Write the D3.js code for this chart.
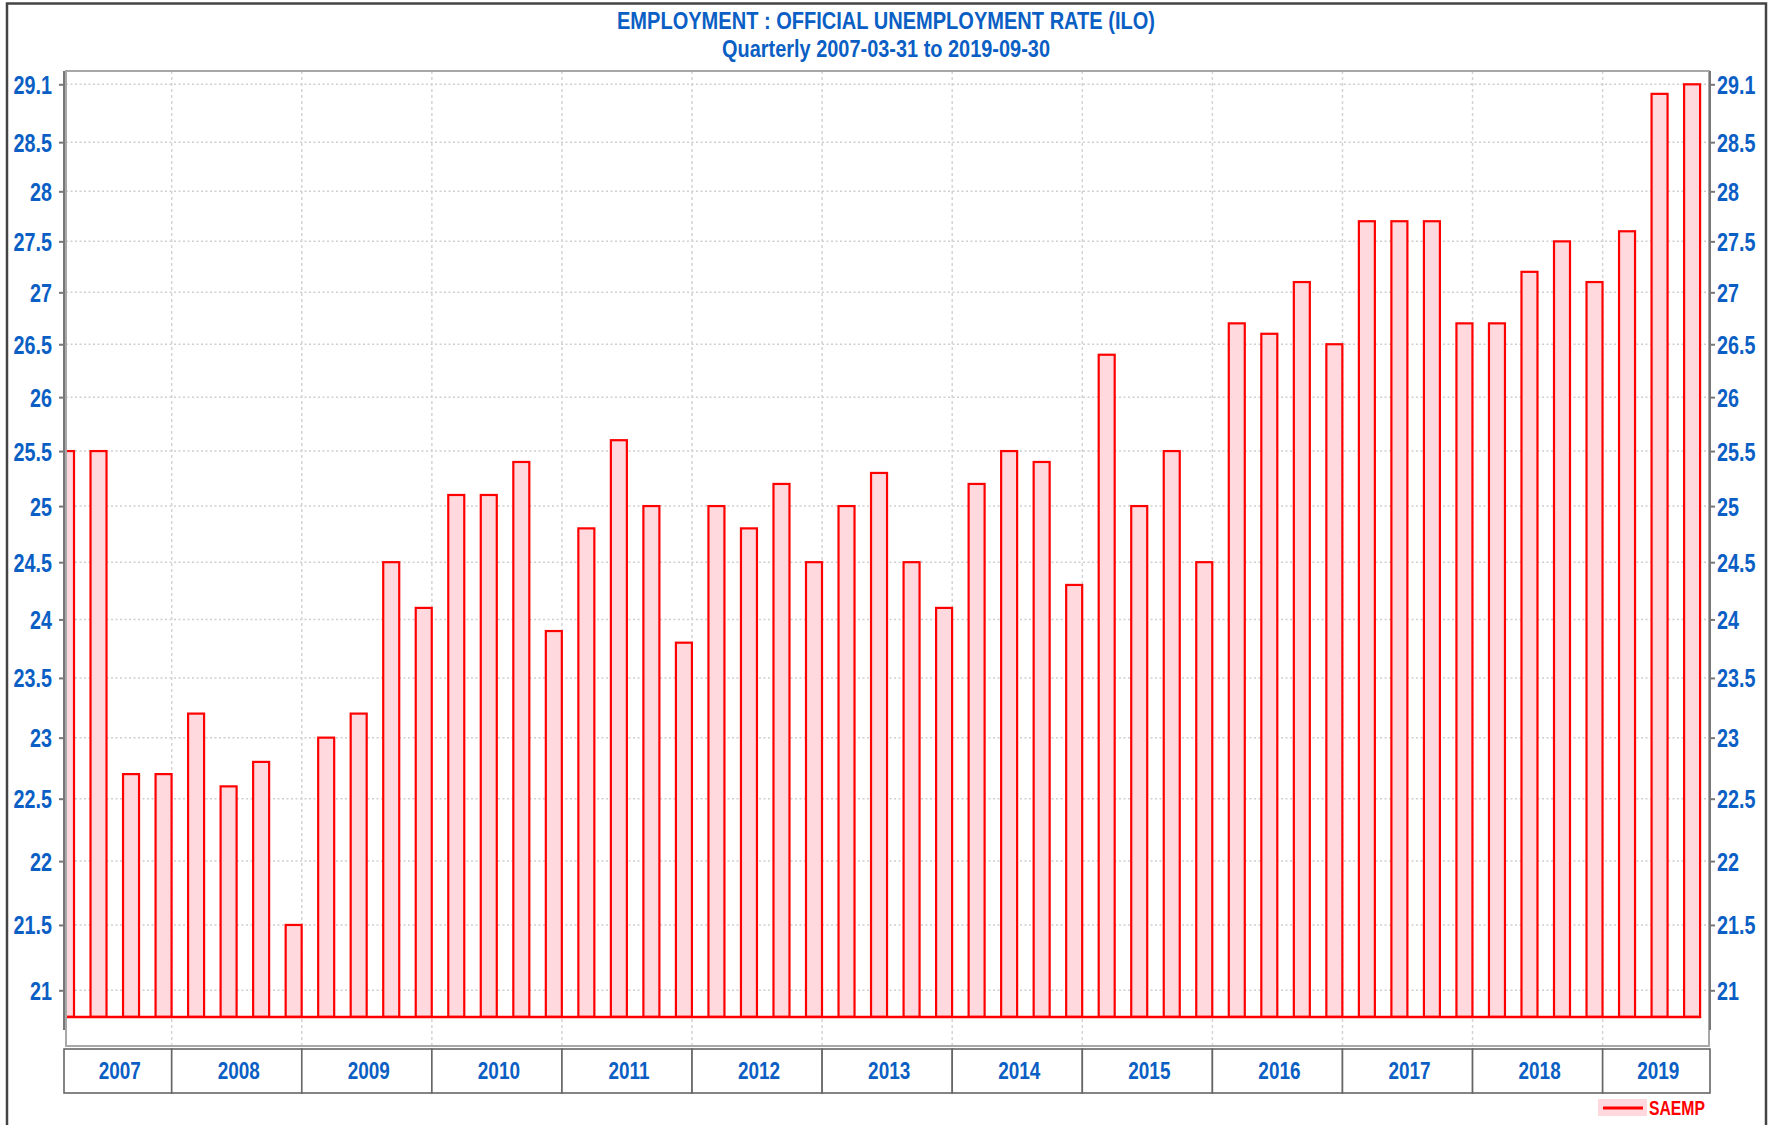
<!DOCTYPE html>
<html>
<head>
<meta charset="utf-8">
<script src="https://cdn.jsdelivr.net/npm/d3@7"></script>
<style>
  body { margin: 0; background: #fff; }
  svg { display: block; }
  text { font-family: "Liberation Sans", Arial, sans-serif; font-weight: bold; }
</style>
</head>
<body>
<svg id="chart" width="1775" height="1125"></svg>
<script>
// quarterly series, 2007-03-31 .. 2019-09-30
var years = [2007, 2008, 2009, 2010, 2011, 2012, 2013, 2014, 2015, 2016, 2017, 2018, 2019];
var quarters = ["Q1", "Q2", "Q3", "Q4"];
var values = [
    25.5, 25.5, 22.7, 22.7,
    23.2, 22.6, 22.8, 21.5,
    23.0, 23.2, 24.5, 24.1,
    25.1, 25.1, 25.4, 23.9,
    24.8, 25.6, 25.0, 23.8,
    25.0, 24.8, 25.2, 24.5,
    25.0, 25.3, 24.5, 24.1,
    25.2, 25.5, 25.4, 24.3,
    26.4, 25.0, 25.5, 24.5,
    26.7, 26.6, 27.1, 26.5,
    27.7, 27.7, 27.7, 26.7,
    26.7, 27.2, 27.5, 27.1,
    27.6, 29.0, 29.1
];
var yTicks = [21, 21.5, 22, 22.5, 23, 23.5, 24, 24.5, 25, 25.5, 26, 26.5, 27, 27.5, 28, 28.5, 29.1];
var baseValue = 20.8;
var seriesName = "SAEMP";
var titleLines = ["EMPLOYMENT : OFFICIAL UNEMPLOYMENT RATE (ILO)", "Quarterly 2007-03-31 to 2019-09-30"];

var blue = "#0b5fc4";
var red = "#ff0000";
var pink = "#ffd9de";
var squeeze = 0.79; // the chart's font is a condensed one

var plot = { left: 66, right: 1709, top: 71, bottom: 1046 };

var svg = d3.select("#chart");

// x: quarter index, first bar centred on the left edge
var x = d3.scaleLinear().domain([0, 50.52]).range([plot.left, plot.right]);
var y = d3.scaleLog().domain([21, 29.1]).range([990.3, 84.3]);
var barW = 16;

// condensed text: place at (px,py) and squeeze horizontally
function narrowText(sel, px, py, sx) {
    sel.attr("x", px / sx).attr("y", py).attr("transform", "scale(" + sx + ",1)");
}

// outer frame
svg.append("rect")
    .attr("x", 7).attr("y", 3.5)
    .attr("width", 1759).attr("height", 1140)
    .attr("fill", "none").attr("stroke", "#444").attr("stroke-width", 2.5);

// titles
svg.selectAll(".title").data(titleLines).enter().append("text")
    .attr("class", "title")
    .attr("x", 886)
    .attr("y", function (d, i) { return i == 0 ? 29 : 57; })
    .attr("text-anchor", "middle")
    .attr("font-size", 23)
    .attr("fill", blue)
    .attr("textLength", function (d, i) { return i == 0 ? 538 : 328; })
    .attr("lengthAdjust", "spacingAndGlyphs")
    .text(function (d) { return d; });

// year spans in index units
var spans = years.map(function (yr, k) {
    return {
        year: yr,
        x0: Math.max(x(4 * k - 0.75), plot.left - 2),
        x1: Math.min(x(4 * k + 3.25), plot.right + 1)
    };
});

// grid
var grid = svg.append("g");
grid.selectAll(".hgrid").data(yTicks).enter().append("line")
    .attr("x1", plot.left).attr("x2", plot.right)
    .attr("y1", function (d) { return y(d); }).attr("y2", function (d) { return y(d); })
    .attr("stroke", "#cfcfcf").attr("stroke-width", 1.5).attr("stroke-dasharray", "2,2.5");
grid.selectAll(".vgrid").data(spans.slice(1)).enter().append("line")
    .attr("x1", function (d) { return d.x0; }).attr("x2", function (d) { return d.x0; })
    .attr("y1", plot.top).attr("y2", plot.bottom)
    .attr("stroke", "#d4d4d4").attr("stroke-width", 1.5).attr("stroke-dasharray", "3,3");

// bars
svg.append("clipPath").attr("id", "plotclip").append("rect")
    .attr("x", plot.left).attr("y", plot.top)
    .attr("width", plot.right - plot.left).attr("height", plot.bottom - plot.top);
var bars = svg.append("g").attr("clip-path", "url(#plotclip)");
bars.selectAll("rect").data(values).enter().append("rect")
    .attr("x", function (d, i) { return x(i) - barW / 2; })
    .attr("y", function (d) { return y(d); })
    .attr("width", barW)
    .attr("height", function (d) { return y(baseValue) - y(d); })
    .attr("fill", pink)
    .attr("stroke", red)
    .attr("stroke-width", 2.2);
bars.append("line")
    .attr("x1", plot.left).attr("x2", x(values.length - 1) + barW / 2 + 1)
    .attr("y1", y(baseValue)).attr("y2", y(baseValue))
    .attr("stroke", red).attr("stroke-width", 2.5);

// plot frame
svg.append("rect")
    .attr("x", plot.left).attr("y", plot.top)
    .attr("width", plot.right - plot.left).attr("height", plot.bottom - plot.top)
    .attr("fill", "none").attr("stroke", "#a8a8a8").attr("stroke-width", 2);

// axes
var yLeft = d3.axisLeft(y).tickValues(yTicks).tickSize(5).tickPadding(7)
    .tickFormat(function (d) { return String(d); });
var yRight = d3.axisRight(y).tickValues(yTicks).tickSize(5).tickPadding(2)
    .tickFormat(function (d) { return String(d); });

function styleAxis(g) {
    g.select(".domain").remove();
    g.selectAll(".tick line").attr("stroke", "#777").attr("stroke-width", 2);
    g.selectAll(".tick text")
        .attr("fill", blue).attr("font-size", 25).attr("font-family", null)
        .attr("dy", "0.36em")
        .each(function () {
            var t = d3.select(this);
            t.attr("x", +t.attr("x") / squeeze).attr("transform", "scale(" + squeeze + ",1)");
        });
}
svg.append("g").attr("transform", "translate(" + (plot.left - 2) + ",0)").call(yLeft).call(styleAxis);
svg.append("g").attr("transform", "translate(" + (plot.right + 1) + ",0)").call(yRight).call(styleAxis);

// axis spines
[plot.left - 2, plot.right + 1].forEach(function (xx) {
    svg.append("line")
        .attr("x1", xx).attr("x2", xx)
        .attr("y1", plot.top).attr("y2", 1030)
        .attr("stroke", "#777").attr("stroke-width", 2);
});

// year box
var box = { top: 1049, bottom: 1093 };
var yearG = svg.append("g");
yearG.selectAll("rect").data(spans).enter().append("rect")
    .attr("x", function (d) { return d.x0; })
    .attr("y", box.top)
    .attr("width", function (d) { return d.x1 - d.x0; })
    .attr("height", box.bottom - box.top)
    .attr("fill", "#fff").attr("stroke", "#666").attr("stroke-width", 1.6);
yearG.selectAll("text").data(spans).enter().append("text")
    .attr("text-anchor", "middle")
    .attr("font-size", 24)
    .attr("fill", blue)
    .text(function (d) { return d.year; })
    .each(function (d) { narrowText(d3.select(this), (d.x0 + d.x1) / 2 + 2, 1079, squeeze); });

// legend
var leg = svg.append("g");
leg.append("rect").attr("x", 1598).attr("y", 1099).attr("width", 49).attr("height", 17).attr("fill", pink);
leg.append("line").attr("x1", 1603).attr("x2", 1643).attr("y1", 1108).attr("y2", 1108)
    .attr("stroke", red).attr("stroke-width", 3);
leg.append("text").attr("font-size", 21).attr("fill", red)
    .text(seriesName)
    .call(narrowText, 1649, 1115, 0.75);
</script>
</body>
</html>
